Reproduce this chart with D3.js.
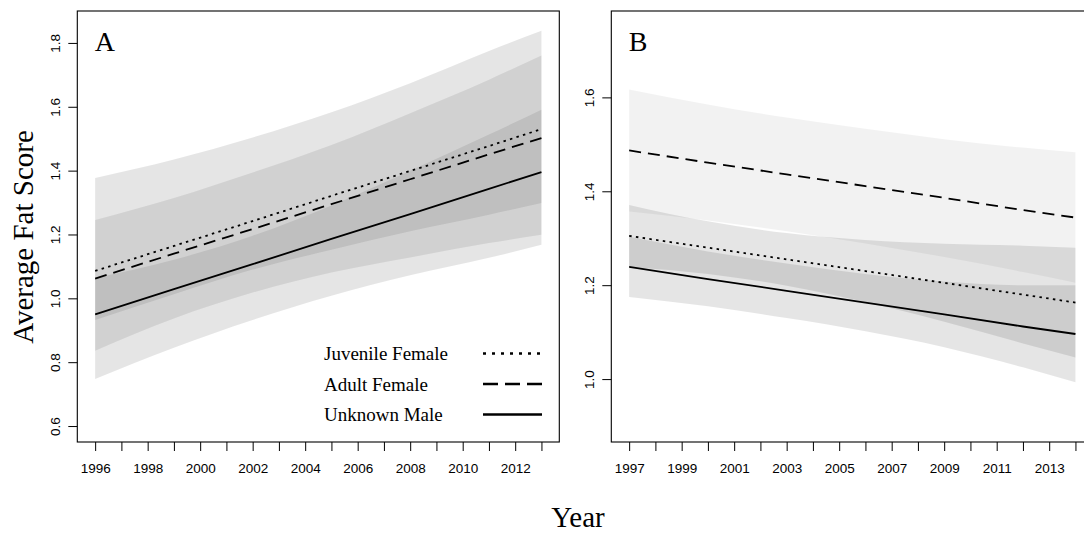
<!DOCTYPE html>
<html><head><meta charset="utf-8">
<script src="https://cdn.jsdelivr.net/npm/d3@7"></script>
<style>
html,body{margin:0;padding:0;background:#fff;}
svg{display:block;}
</style></head>
<body>
<svg id="chart" width="1084" height="544"></svg>
<script>
// ---------------- DATA ----------------
// Panel A (1996-2013)
const yearsA = [1996, 1999, 2002, 2005, 2008, 2011, 2013];
const juvMeanA   = [1.086, 1.164, 1.242, 1.321, 1.399, 1.477, 1.530];
const juvLowA    = [0.932, 1.013, 1.090, 1.152, 1.210, 1.262, 1.299];
const juvHighA   = [1.245, 1.314, 1.394, 1.480, 1.580, 1.685, 1.761];
const adultMeanA = [1.062, 1.140, 1.217, 1.295, 1.373, 1.451, 1.502];
const adultLowA  = [0.747, 0.845, 0.932, 1.008, 1.072, 1.127, 1.168];
const adultHighA = [1.377, 1.435, 1.504, 1.583, 1.674, 1.775, 1.838];
const maleMeanA  = [0.950, 1.029, 1.107, 1.186, 1.264, 1.343, 1.395];
const maleLowA   = [0.836, 0.937, 1.018, 1.081, 1.128, 1.173, 1.199];
const maleHighA  = [1.064, 1.121, 1.196, 1.291, 1.400, 1.513, 1.591];

// Panel B (1997-2014)
const yearsB = [1997, 2000, 2003, 2006, 2009, 2012, 2014];
const juvMeanB   = [1.305, 1.280, 1.255, 1.230, 1.205, 1.180, 1.163];
const juvLowB    = [1.239, 1.224, 1.199, 1.164, 1.122, 1.076, 1.046];
const juvHighB   = [1.371, 1.336, 1.311, 1.296, 1.288, 1.284, 1.280];
const adultMeanB = [1.487, 1.461, 1.436, 1.411, 1.386, 1.360, 1.344];
const adultLowB  = [1.357, 1.338, 1.315, 1.289, 1.260, 1.228, 1.205];
const adultHighB = [1.617, 1.585, 1.557, 1.533, 1.511, 1.493, 1.483];
const maleMeanB  = [1.239, 1.213, 1.188, 1.163, 1.138, 1.112, 1.096];
const maleLowB   = [1.175, 1.155, 1.130, 1.102, 1.068, 1.025, 0.993];
const maleHighB  = [1.303, 1.272, 1.246, 1.224, 1.208, 1.200, 1.200];

// Ticks
const xTicksA  = [1996,1997,1998,1999,2000,2001,2002,2003,2004,2005,2006,2007,2008,2009,2010,2011,2012,2013];
const xLabelsA = [1996,1998,2000,2002,2004,2006,2008,2010,2012];
const xTicksB  = [1997,1998,1999,2000,2001,2002,2003,2004,2005,2006,2007,2008,2009,2010,2011,2012,2013,2014];
const xLabelsB = [1997,1999,2001,2003,2005,2007,2009,2011,2013];
const yTicksA  = [0.6, 0.8, 1.0, 1.2, 1.4, 1.6, 1.8];
const yTicksB  = [1.0, 1.2, 1.4, 1.6];

const seriesNames = ["Juvenile Female", "Adult Female", "Unknown Male"];

// ---------------- LAYOUT ----------------
const svg = d3.select("#chart");
const SERIF = "'Liberation Serif','Times New Roman',serif";
const SANS = "'Liberation Sans',Arial,Helvetica,sans-serif";
const plotTop = 11, plotBottom = 442;

const dashStyle = { "Juvenile Female": "2.5,4.3", "Adult Female": "12,7", "Unknown Male": null };
const legendDash = { "Juvenile Female": "3,6", "Adult Female": "15,7", "Unknown Male": null };

function panel(cfg) {
  const x = d3.scaleLinear().domain(cfg.xDomain).range([cfg.left, cfg.right]);
  const y = d3.scaleLinear().domain(cfg.yDomain).range([plotBottom, plotTop]);
  const g = svg.append("g");

  const area = d3.area()
    .x(d => x(d.t)).y0(d => y(d.lo)).y1(d => y(d.hi))
    .curve(d3.curveMonotoneX);
  const line = d3.line().x(d => x(d.t)).y(d => y(d.v));

  cfg.bands.forEach(b => {
    const data = cfg.years.map((t, i) => ({ t, lo: b.lo[i], hi: b.hi[i] }));
    g.append("path").attr("d", area(data))
      .attr("fill", "#000").attr("fill-opacity", b.op).attr("stroke", "none");
  });

  cfg.lines.forEach(l => {
    const data = cfg.years.map((t, i) => ({ t, v: l.v[i] }));
    const p = g.append("path").attr("d", line(data))
      .attr("fill", "none").attr("stroke", "#000").attr("stroke-width", 1.8);
    if (dashStyle[l.name]) p.attr("stroke-dasharray", dashStyle[l.name]);
  });

  // box
  g.append("rect").attr("x", cfg.left).attr("y", plotTop)
    .attr("width", cfg.right - cfg.left).attr("height", plotBottom - plotTop)
    .attr("fill", "none").attr("stroke", "#000").attr("stroke-width", 1.1);

  // x axis
  const labSet = new Set(cfg.xLabels);
  const xa = g.append("g").attr("transform", `translate(0,${plotBottom})`)
    .call(d3.axisBottom(x).tickValues(cfg.xTicks).tickSize(9)
      .tickFormat(d => labSet.has(d) ? String(d) : ""));
  xa.select(".domain").remove();
  xa.selectAll("line").attr("stroke", "#000");
  xa.selectAll("text").attr("y", 31).attr("dy", 0)
    .style("font-family", SANS).style("font-size", "13.5px").attr("fill", "#000");

  // y axis
  const ya = g.append("g").attr("transform", `translate(${cfg.left},0)`)
    .call(d3.axisLeft(y).tickValues(cfg.yTicks).tickSize(9).tickFormat(d3.format(".1f")));
  ya.select(".domain").remove();
  ya.selectAll("line").attr("stroke", "#000");
  ya.selectAll("text").attr("transform", "rotate(-90)")
    .attr("x", 0).attr("y", -17.5).attr("dy", 0).attr("text-anchor", "middle")
    .style("font-family", SANS).style("font-size", "13.5px").attr("fill", "#000");

  // panel letter
  g.append("text").attr("x", cfg.left + 17.5).attr("y", 51)
    .style("font-family", SERIF).style("font-size", "28px").text(cfg.letter);
  return { x, y, g };
}

panel({
  letter: "A", left: 77.3, right: 559.3,
  xDomain: [1995.32, 2013.68], yDomain: [0.55, 1.9],
  years: yearsA, xTicks: xTicksA, xLabels: xLabelsA, yTicks: yTicksA,
  bands: [
    { lo: adultLowA, hi: adultHighA, op: 0.10 },
    { lo: juvLowA, hi: juvHighA, op: 0.085 },
    { lo: maleLowA, hi: maleHighA, op: 0.085 }
  ],
  lines: [
    { name: "Juvenile Female", v: juvMeanA },
    { name: "Adult Female", v: adultMeanA },
    { name: "Unknown Male", v: maleMeanA }
  ]
});

panel({
  letter: "B", left: 611.3, right: 1093.3,
  xDomain: [1996.32, 2014.68], yDomain: [0.866, 1.784],
  years: yearsB, xTicks: xTicksB, xLabels: xLabelsB, yTicks: yTicksB,
  bands: [
    { lo: adultLowB, hi: adultHighB, op: 0.05 },
    { lo: juvLowB, hi: juvHighB, op: 0.10 },
    { lo: maleLowB, hi: maleHighB, op: 0.10 }
  ],
  lines: [
    { name: "Juvenile Female", v: juvMeanB },
    { name: "Adult Female", v: adultMeanB },
    { name: "Unknown Male", v: maleMeanB }
  ]
});

// legend (panel A)
const legendRows = [353.5, 384, 414.5];
const lg = svg.append("g");
seriesNames.forEach((name, i) => {
  const yy = legendRows[i];
  lg.append("text").attr("x", 324).attr("y", yy + 6.5)
    .style("font-family", SERIF).style("font-size", "19px").text(name);
  const ln = lg.append("line").attr("x1", 483).attr("x2", 542)
    .attr("y1", yy).attr("y2", yy).attr("stroke", "#000").attr("stroke-width", 2.4);
  if (legendDash[name]) ln.attr("stroke-dasharray", legendDash[name]);
});

// axis titles
svg.append("text").attr("transform", "translate(33,237) rotate(-90)")
  .attr("text-anchor", "middle")
  .style("font-family", SERIF).style("font-size", "29px").text("Average Fat Score");
svg.append("text").attr("x", 578).attr("y", 527).attr("text-anchor", "middle")
  .style("font-family", SERIF).style("font-size", "29px").text("Year");
</script>
</body></html>
